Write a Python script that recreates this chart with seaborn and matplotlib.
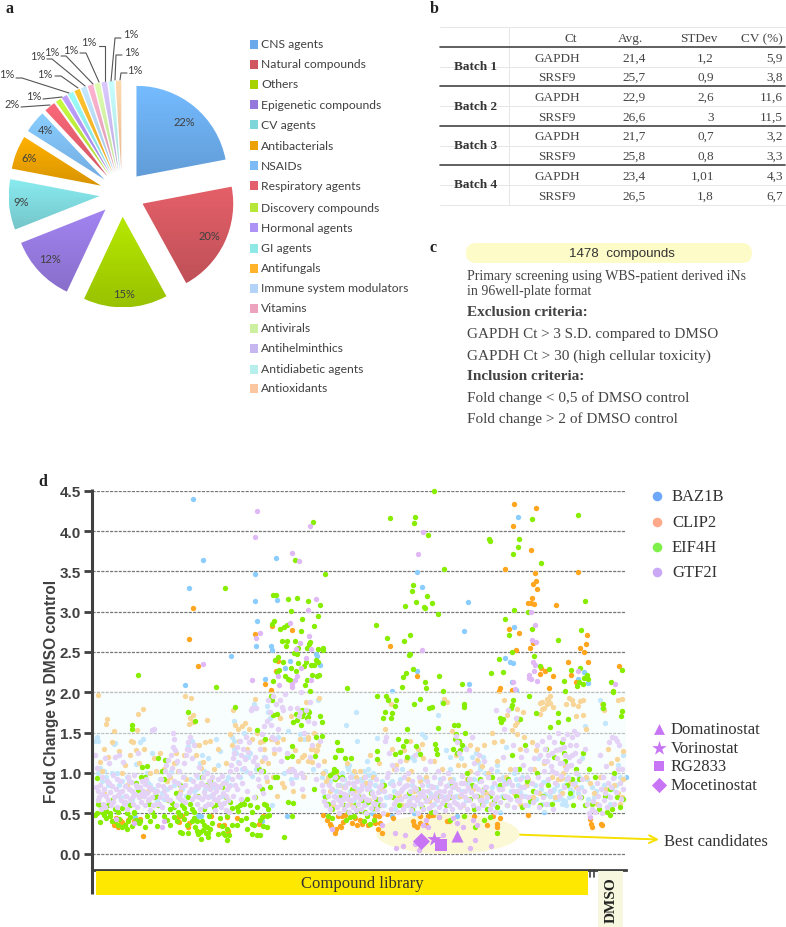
import numpy as np
import pandas as pd
import matplotlib
matplotlib.use("Agg")
import matplotlib.pyplot as plt
from matplotlib.colors import LinearSegmentedColormap, to_rgb
from matplotlib.patches import Ellipse, FancyBboxPatch, Rectangle
import seaborn as sns

# panel a
pie_names = ["CNS agents", "Natural compounds", "Others", "Epigenetic compounds", "CV agents",
             "Antibacterials", "NSAIDs", "Respiratory agents", "Discovery compounds", "Hormonal agents",
             "GI agents", "Antifungals", "Immune system modulators", "Vitamins", "Antivirals",
             "Antihelminthics", "Antidiabetic agents", "Antioxidants"]
pie_values = [22, 20, 15, 12, 9, 6, 4, 2, 1, 1, 1, 1, 1, 1, 1, 1, 1, 1]
pie_colors = ["#6aaaea", "#d0575f", "#a6d300", "#9478dc", "#7dd6da", "#eba100", "#7dbbf5", "#e45f6e",
              "#b6e63a", "#ae92f5", "#8ee8e6", "#ffb32a", "#b3d4f8", "#eca4be", "#ccf0a0", "#c7b7f0",
              "#b6efeb", "#fbc7a0"]

# panel b
batch_names = ["Batch 1", "Batch 2", "Batch 3", "Batch 4"]
table_header = ["Ct", "Avg.", "STDev", "CV (%)"]
table_genes = ["GAPDH", "SRSF9"] * 4
table_avg = ["21,4", "25,7", "22,9", "26,6", "21,7", "25,8", "23,4", "26,5"]
table_std = ["1,2", "0,9", "2,6", "3", "0,7", "0,8", "1,01", "1,8"]
table_cv = ["5,9", "3,8", "11,6", "11,5", "3,2", "3,3", "4,3", "6,7"]

# panel d, position along the plate axis and fold change
baz1b = [(101,4.40),(111,3.64),(97,3.29),(163,3.47),(163,3.13),(184,3.67),(185,3.15),(165,2.89),(164,2.58),(179,2.58),
 (180,2.52),(139,2.45),(198,2.39),(224,2.47),(225,2.45),(228,2.34),(193,2.30),(173,2.17),(93,2.09),
 (426,4.18),(325,3.49),(330,3.31),(376,3.12),(422,2.81),(372,2.76),(413,2.42),(418,2.38),(421,2.36),(325,2.26),
 (492,2.25),(486,2.17),(496,2.11),(377,2.10),(420,2.13),(300,2.02),(424,2.03),
 (43,.45),(106,.47),(109,.47),(170,.41),(195,.47),(322,.50),(365,.47),(280,.50),(300,.46),
 (3,1.40),(5,1.44),(6,1.0),(8,1.06),(10,.90),(12,1.02),(14,.95),(22,1.36),(25,1.0),(27,.85),(30,.90),(33,.72),(37,.62),
 (44,1.11),(48,1.38),(52,.92),(55,1.0),(58,.85),(60,1.25),(65,.65),(70,.75),(75,.90),(79,1.02),(84,1.12),(88,.68),
 (92,.95),(96,1.33),(100,1.40),(104,.80),(108,1.12),(112,1.02),(116,1.18),(120,.88),(124,1.42),(128,1.27),(134,.90),
 (140,1.45),(142,1.30),(146,1.14),(150,1.05),(152,1.50),(156,1.2),(160,.96),(164,1.05),(168,1.38),(172,1.20),(176,1.75),
 (178,1.68),(180,.60),(186,1.45),(192,1.0),(196,1.52),(199,.92),(204,.95),(208,1.48),(212,1.42),(216,1.70),(221,1.05),
 (226,1.90),(230,.95),(233,1.02),(238,.90),(240,.80),(246,.68),(250,1.0),(253,.85),(256,1.05),(260,.95),(264,.72),
 (268,.92),(272,.85),(276,1.05),(278,.90),(282,.98),(288,.78),(292,.60),(296,.70),(300,.90),(303,.55),(306,.68),
 (310,1.05),(312,.82),(316,.60),(319,.70),(322,.52),(326,1.25),(330,1.48),(334,.95),(338,.75),(342,.62),(346,1.72),
 (350,1.88),(354,1.28),(358,1.05),(362,.82),(366,.70),(369,1.18),(372,1.32),(376,.88),(380,1.20),(384,1.25),(388,1.05),
 (391,.75),(394,.65),(398,.95),(402,.62),(405,1.10),(408,.52),(412,.90),(414,1.32),(418,.68),(422,1.0),(426,.85),(430,.95),
 (433,.72),(436,.60),(440,1.05),(443,.85),(446,1.18),(450,.62),(452,.52),(455,.90),(458,.72),(462,.80),(466,.68),(468,.78),
 (470,.75),(472,.85),(474,.92),(477,.70),(480,.78),(483,.88),(486,.75),(490,1.18),(493,1.58),(496,.68),(508,1.90),
 (510,1.80),(513,1.62),(518,.62),(522,.95),(526,1.10),(530,.92),(531,1.22)]
baz1b_more = [(6,1.40),(23,1.37),(51,1.42),(75,.80),(113,.80),(126,1.10),(142,1.40),(142,1.64),(153,1.20),(162,1.85),(163,1.80),
 (175,1.83),(264,1.75),(254,1.59),(265,1.40),(255,1.08),(257,1.10),(275,1.15),(260,1.0),(278,.97),(272,1.02),(276,.97),(281,1.0),
 (285,1.43),(333,1.44),(320,1.20),(322,1.16),(316,1.18),(471,.66),(476,.95),(451,.89),(458,.72),(463,.68),(473,.65),(480,.72),
 (386,1.13),(391,1.20),(388,1.08),(405,1.02),(411,.95),(358,1.20),(468,.70),(470,.62),(474,.60),(478,.80),(465,.85),(461,.78),
 (456,.62),(453,.74),(449,.80),(444,.68),(438,.70),(435,.85),(428,.76),(424,.92),(419,.78),(415,.88),(410,.72),(406,.84),(400,.82),
 (396,.72),(393,1.0),(387,.90),(382,.92),(378,.80),(374,.66),(370,.78),(364,.72),(361,.92),(356,.85),(352,.70),(348,.92),(344,.82),
 (340,.72),(336,.85),(332,.92),(328,.62),(324,.78),(320,.85),(314,.72),(308,.92),(302,.78),(298,.88),(294,.70),(290,.90),(286,.66),
 (283,.85),(279,.78),(274,.62),(270,.90),(266,.80),(262,.66),(258,.78),(252,.92),(248,.85),(244,.78),(242,.95),(236,.88),(232,.72),
 (16,.85),(20,1.0),(28,.70),(35,.95),(40,.68),(46,.82),(50,.75),(56,.88),(62,.80),(68,.92),(72,.68),(82,.85),(90,.80),(94,.72),
 (98,.92),(102,.78),(106,.95),(110,1.22),(118,.72),(122,.82),(130,.72),(136,.95),(138,.85),(144,1.25),(148,.95),(154,1.02),(158,1.25),
 (487,.95),(489,.82),(495,.92),(500,.82),(502,.70),(504,.78),(512,.85),(516,.72),(520,.80),(524,.85),(528,.95),(534,.95)]

clip2 = [(101,3.05),(97,2.66),(106,2.33),(163,2.72),(180,2.82),(200,2.77),(186,2.39),(184,2.26),(173,2.10),(179,2.03),
 (422,4.34),(444,4.29),(421,4.06),(439,3.76),(413,3.53),(486,3.49),(443,3.48),(444,3.38),(441,3.34),(445,3.28),(440,3.17),
 (436,3.11),(439,3.11),(442,3.09),(464,3.08),(417,2.78),(427,2.73),(495,2.71),(494,2.60),(298,2.57),(441,2.61),(438,2.55),
 (488,2.55),(424,2.52),(492,2.50),(476,2.37),(496,2.37),(527,2.32),(449,2.30),(453,2.27),(448,2.23),(479,2.22),(461,2.20),
 (325,2.20),(484,2.13),(408,2.05),(407,2.02),(420,2.03),(457,2.05),
 (22,.36),(26,.33),(20,.40),(30,.39),(33,.35),(28,.42),(36,.42),(42,.40),(51,.22),(48,.43),(24,.44),(87,.39),(90,.46),(97,.38),
 (86,.45),(96,.33),(127,.35),(132,.36),(136,.28),(119,.46),(135,.45),(145,.44),(171,.46),(167,.37),
 (231,.48),(235,.42),(238,.37),(239,.34),(244,.30),(248,.34),(246,.46),(250,.46),(253,.48),(243,.26),(251,.39),(249,.33),
 (260,.38),(263,.44),(265,.35),(268,.42),(270,.37),(276,.35),(283,.46),(283,.38),(288,.38),(287,.46),(286,.30),(290,.25),
 (301,.44),(295,.49),(321,.41),(322,.35),(325,.33),(328,.38),(334,.36),(328,.47),(336,.47),(339,.48),(341,.48),(355,.40),
 (357,.41),(382,.46),(395,.35),(401,.46),(405,.37),(405,.33),(408,.44),(436,.48),(498,.43),(499,.37),(500,.33),(509,.37),(510,.36),
 (6,1.97),(93,1.95),(99,1.93),(46,1.73),(51,1.79),(15,1.67),(14,1.61),(22,1.52),(45,1.53),(101,1.72),(98,1.68),(101,1.63),
 (97,1.61),(115,1.66),(8,1.14),(12,1.30),(16,1.20),(12,.75),(27,1.27),(30,1.0),(35,.85),(39,1.40),(41,1.38),(44,1.29),(47,1.12),
 (56,.78),(58,1.0),(64,1.02),(68,1.25),(75,.90),(78,.95),(84,1.25),(86,1.02),(88,.78),(94,.92),(103,1.35),(107,1.35),
 (104,1.22),(111,1.14),(113,1.38),(118,1.40),(122,1.05),(126,1.30),(130,.85),(141,1.78),(140,1.35),(143,1.60),(147,1.40),
 (150,1.58),(153,1.62),(157,1.55),(163,1.92),(165,1.50),(168,1.38),(172,1.30),(176,1.12),(179,1.42),(182,1.25),(185,1.38),
 (188,1.68),(192,.82),(199,1.70),(203,1.28),(208,1.42),(212,1.22),(214,1.88),(216,1.45),(219,1.30),(222,1.50),(224,1.27),
 (227,1.93),(231,1.0),(234,.90),(238,.78),(241,.60),(244,1.0),(248,.70),(252,.82),(256,.88),(258,.62),(262,.78),(264,.95),
 (268,1.02),(271,.70),(274,.88),(277,.66),(281,.95),(284,.55),(290,.80),(293,1.55),(296,1.92),(299,1.85),(300,1.30),(304,1.10),
 (307,.72),(310,.60),(314,1.16),(316,.92),(319,1.02),(322,.78),(325,.70),(328,.90),(331,1.18),(334,.95),(337,.65),(340,.82),
 (344,.68),(348,.88),(352,1.92),(355,1.88),(360,1.52),(363,.85),(366,1.10),(368,.72),(371,.60),(375,.92),(378,1.35),(381,.80),
 (385,1.30),(389,.70),(392,1.35),(396,.95),(399,.62),(402,1.38),(405,1.15),(408,.85),(412,1.90),(415,1.72),(418,1.05),(422,.75),
 (425,1.48),(428,.62),(432,1.45),(436,.92),(440,1.38),(444,1.28),(447,.75),(450,1.88),(452,1.80),(455,1.92),(458,1.95),(461,1.82),
 (463,.70),(466,.92),(470,.75),(474,1.85),(477,1.93),(480,1.90),(484,.82),(487,.70),(491,1.72),(494,1.55),(498,.88),(502,.75),
 (505,.62),(510,1.85),(512,1.78),(516,1.30),(519,1.12),(522,.85),(526,1.90),(530,1.92),(528,.62),(531,.92)]
clip2_more = [(171,1.40),(181,1.42),(191,1.42),(216,1.42),(221,1.30),(226,1.35),(225,1.28),(210,1.20),(216,1.15),(220,1.13),(232,1.15),
 (185,.72),(211,.72),(190,.87),(201,.77),(181,.95),(236,.95),(448,1.87),(456,1.91),(455,1.85),(450,1.79),(448,1.73),(458,1.87),
 (491,1.91),(488,1.89),(481,1.85),(486,1.83),(484,1.71),(425,1.79),(431,1.75),(425,1.68),(425,1.63),(423,1.59),(420,1.53),(410,1.40),
 (400,1.50),(428,1.30),(428,.70),(441,.70),(390,1.08),(396,1.0),(385,1.16),(468,.93),(471,1.0),(473,1.08),(470,.94),(525,1.17),(531,1.27),
 (526,.75),(530,.70),(10,1.02),(20,1.38),(33,1.10),(38,1.22),(52,1.30),(62,1.18),(72,1.05),(82,1.12),(92,1.22),(109,1.06),(134,1.12),
 (138,1.48),(146,1.55),(155,1.30),(160,1.42),(170,1.15),(175,.90),(198,1.05),(206,1.15),(212,.95),(243,.92),(255,1.12),(262,1.02),
 (272,.95),(278,1.22),(287,1.12),(302,1.05),(312,1.28),(318,1.40),(326,1.30),(330,1.36),(342,1.15),(350,1.05),(358,.92),(364,1.22),
 (372,1.10),(378,1.02),(394,.75),(414,.95),(434,.85),(442,1.05),(452,1.12),(460,.95),(478,.88),(494,.95),(508,.95),(514,.80)]

eif4h = [(221,4.11),(203,3.64),(233,3.47),(133,3.29),(181,3.21),(184,3.21),(196,3.16),(205,3.17),(216,3.13),(228,3.08),
 (199,3.01),(210,2.91),(226,2.94),(182,2.88),(180,2.85),(195,2.84),(192,2.81),(188,2.78),(209,2.76),(222,2.82),(190,2.64),
 (195,2.64),(203,2.64),(218,2.62),(217,2.60),(194,2.58),(206,2.55),(215,2.55),(226,2.54),(231,2.55),(231,2.53),(202,2.49),
 (205,2.47),(186,2.44),(183,2.40),(191,2.38),(224,2.40),(226,2.37),(206,2.36),(214,2.38),(219,2.34),(222,2.34),(212,2.32),
 (199,2.30),(187,2.28),(204,2.26),(185,2.25),(193,2.20),(196,2.16),(198,2.15),(220,2.21),(227,2.21),(225,2.20),(215,2.15),
 (181,2.14),(213,2.09),(46,2.22),(124,2.07),(218,2.01),
 (342,4.5),(298,4.16),(323,4.17),(322,4.10),(440,4.15),(486,4.20),(336,3.95),(397,3.90),(398,3.88),(427,3.90),(426,3.80),
 (421,3.71),(449,3.60),(352,3.53),(321,3.33),(320,3.26),(335,3.20),(324,3.12),(340,3.11),(313,3.07),(332,3.06),(333,3.04),
 (346,2.97),(493,3.13),(422,3.02),(436,3.00),(413,2.91),(284,2.84),(440,2.79),(489,2.77),(417,2.71),(318,2.71),(295,2.67),
 (312,2.64),(466,2.65),(318,2.48),(317,2.46),(420,2.50),(442,2.45),(407,2.41),(321,2.29),(448,2.33),(457,2.29),(488,2.30),
 (479,2.28),(399,2.24),(411,2.25),(530,2.28),(314,2.24),(311,2.19),(347,2.20),(495,2.22),(492,2.18),(496,2.17),(333,2.13),
 (370,2.10),(472,2.14),(487,2.13),(491,2.10),(485,2.08),(519,2.13),(310,2.07),(334,2.05),(255,2.05),(351,2.01),(473,2.02),(521,2.01),
 # under the 0.5 line
 (8,.39),(12,.48),(14,.44),(18,.47),(20,.40),(23,.41),(26,.36),(27,.43),(30,.33),(33,.36),(35,.31),(36,.40),(38,.45),(42,.50),
 (47,.38),(48,.41),(53,.33),(55,.47),(62,.46),(65,.34),(72,.47),(75,.42),(78,.36),(82,.45),(85,.40),(88,.48),(92,.43),(95,.36),
 (96,.25),(100,.40),(102,.44),(105,.28),(109,.18),(111,.29),(106,.24),(115,.33),(116,.20),(118,.30),(120,.38),(110,.41),(117,.47),
 (112,.36),(108,.27),(116,.25),(114,.26),(105,.41),(103,.33),(126,.24),(131,.25),(135,.31),(135,.17),(137,.23),(130,.34),(133,.23),
 (135,.46),(128,.44),(140,.36),(145,.36),(149,.42),(154,.44),(155,.31),(160,.37),(160,.24),(165,.23),(168,.23),(162,.35),(168,.42),
 (171,.34),(175,.46),(170,.45),(192,.21),(236,.46),(240,.44),(254,.42),(258,.45),(262,.47),(272,.40),(275,.46),(278,.37),(282,.42),
 (200,.47),(175,.33),(177,.48),(3,.48),(5,.50),(40,.34),(44,.42),(58,.40),(88,.27),(90,.25),
 (347,.45),(358,.42),(372,.46),(383,.33),(392,.42),(398,.45),(405,.26),(518,.48),
 # band
 (5,.94),(6,.62),(8,.60),(10,.52),(12,.56),(14,.53),(16,.60),(18,.50),(20,.67),(23,.55),(26,.52),(30,.56),(35,.50),(38,.60),
 (42,.52),(44,.88),(46,.79),(48,.72),(49,.95),(50,1.07),(53,.95),(55,1.08),(57,.62),(60,.52),(62,.70),(64,.72),(66,.60),(66,1.18),
 (70,1.03),(72,.92),(73,1.16),(76,.67),(78,.55),(80,.63),(82,.58),(84,.75),(86,.52),(88,.85),(90,.60),(92,.56),(94,.50),(96,.70),
 (98,.62),(100,.55),(102,.52),(96,1.75),(103,1.65),(40,1.60),(40,1.54),(106,.72),(110,.95),(112,.55),(115,.85),(118,.90),(122,.58),
 (125,.62),(130,.82),(134,.70),(138,.64),(140,.57),(143,1.82),(146,.53),(145,.58),(148,.60),(150,.65),(152,.62),(155,.68),(158,.60),
 (160,.52),(163,.70),(165,.58),(167,1.05),(170,.80),(172,.62),(174,.60),(176,.55),(165,1.53),(173,1.42),(171,1.03),(178,.82),
 (179,1.96),(180,1.90),(181,1.72),(183,.95),(185,.95),(185,1.73),(195,1.20),(196,.64),(200,1.21),(200,1.34),(201,.63),(201,1.63),
 (204,1.73),(205,1.66),(209,1.59),(210,1.78),(210,1.70),(211,1.74),(215,1.68),(216,1.77),(216,1.69),(217,1.76),(222,.80),(223,1.21),
 (224,1.44),(228,1.71),(230,1.46),(230,1.63),(233,.70),(236,.62),(238,.98),(240,.55),(241,1.0),(242,1.05),(243,.92),(244,1.02),
 (245,.95),(245,1.38),(246,.85),(246,1.28),(248,.70),(249,1.28),(243,1.2),(250,.95),(252,.60),(253,1.18),(255,.72),(256,.52),
 (259,1.18),(260,.80),(263,.60),(266,.72),(268,.54),(270,.66),(273,.52),(276,.64),(279,.75),(281,.56),(284,.68),(285,1.17),(285,1.27),
 (285,1.95),(288,.60),(291,1.68),(292,.85),(293,1.75),(294,1.96),(296,1.90),(299,1.68),(300,1.74),(301,.70),(303,1.24),(303,1.83),
 (304,1.90),(306,1.42),(307,.60),(308,1.26),(311,1.33),(314,1.40),(315,1.55),(315,1.20),(317,.75),(320,.55),(322,1.85),(324,1.34),
 (326,.80),(328,1.24),(328,1.92),(330,.58),(333,.70),(337,1.8),(340,1.82),(339,.52),(343,1.36),(344,1.3),(345,1.24),(346,1.56),(347,.72),
 (351,1.87),(354,.60),(358,.70),(360,.85),(361,1.30),(362,1.60),(363,1.42),(364,1.48),(365,1.25),(366,1.60),(367,1.40),(368,1.28),
 (370,1.35),(372,1.86),(372,1.82),(373,1.50),(375,1.0),(376,.92),(378,.68),(380,.85),(382,.55),(385,.72),(388,.92),(390,.62),
 (392,.80),(395,.55),(398,.72),(400,.95),(402,.65),(405,.58),(408,.85),(409,1.63),(408,1.68),(411,1.67),(412,.70),(415,.60),(416,.92),
 (420,1.22),(421,1.90),(420,1.84),(419,1.80),(424,.72),(427,1.05),(428,1.67),(430,.58),(433,1.35),(435,.90),(437,1.95),(438,.65),
 (441,.78),(444,1.74),(445,1.0),(448,.60),(451,.72),(454,1.30),(456,.85),(458,1.57),(460,.62),(462,1.2),(466,1.63),(466,1.74),
 (468,1.30),(470,1.38),(472,1.25),(473,1.15),(475,.85),(476,1.67),(478,.75),(480,.92),(481,.60),(484,1.05),(487,.92),(489,.70),
 (491,1.25),(493,.60),(497,1.05),(500,.62),(503,.95),(507,.55),(511,1.8),(511,1.86),(513,.72),(515,.52),(518,.80),(520,.55),
 (522,1.0),(525,.70),(528,.58),(529,1.71),(530,1.77),(531,.68),(521,2.0)]

gtf2i = [(165,4.25),(218,4.06),(163,3.92),(200,3.73),(207,3.63),(224,3.16),(216,3.02),(198,2.86),(168,2.74),(164,2.67),
 (217,2.70),(208,2.61),(204,2.54),(219,2.54),(214,2.43),(111,2.35),(209,2.30),(186,2.20),(205,2.20),(203,2.15),(219,2.15),
 (160,2.15),(200,2.10),(200,2.07),(187,2.09),(209,2.00),
 (331,3.99),(326,3.72),(439,2.99),(443,2.84),(440,2.65),(444,2.62),(330,2.52),(441,2.37),(443,2.34),(442,2.27),(486,2.27),
 (437,2.22),(437,2.18),(439,2.17),(445,2.14),(421,2.13),(523,2.10),(377,2.03),(423,2.04),
 (303,.25),(313,.23),(304,.07),(311,.10),(323,.12),(327,.04),(331,.35),(336,.33),(351,.23),(365,.38),(371,.33),(378,.07),
 (383,.17),(399,.10),(385,.35),(381,.42),(334,.42),(347,.45),(361,.44),(42,.38),(24,.43),(70,.33),(72,.40),(240,.30),(290,.35),
 # band
 (3,1.22),(5,1.06),(4,.82),(6,.78),(7,.70),(8,.85),(10,.95),(11,.62),(12,.80),(9,.55),(14,.72),(15,.90),(16,.66),(13,1.18),
 (17,1.12),(18,.76),(19,.60),(20,.84),(21,.97),(22,.70),(23,1.20),(24,.80),(25,.58),(26,.73),(27,1.22),(28,.90),(29,.66),(30,.78),
 (31,1.13),(32,.61),(33,.84),(34,.72),(35,.55),(36,.95),(37,.80),(38,.68),(39,.89),(40,.77),(41,.62),(42,.98),(43,.74),(44,.85),
 (45,.58),(46,1.25),(47,.70),(48,.83),(49,.64),(50,.90),(51,.78),(52,.72),(53,.60),(54,.93),(55,.75),(56,.67),(57,.82),(58,.54),
 (59,.80),(60,.70),(60,1.53),(62,1.55),(63,.76),(64,.62),(66,.85),(68,.70),(69,.92),(70,.58),(72,.78),(73,1.03),(74,1.10),(75,.68),
 (76,1.16),(77,.98),(78,.83),(79,1.22),(80,1.06),(81,1.49),(81,1.32),(82,1.42),(83,1.28),(84,.60),(85,1.15),(86,.88),(87,1.03),
 (88,.74),(90,.67),(91,.95),(92,1.12),(93,.85),(94,1.22),(95,1.30),(96,1.38),(97,1.28),(98,1.44),(99,.80),(100,1.18),(101,.90),
 (102,1.35),(103,.72),(104,.98),(105,.62),(106,.82),(107,1.07),(108,.55),(109,.88),(110,.68),(111,.95),(112,.76),(113,.59),
 (114,.84),(115,1.00),(116,.70),(117,.90),(118,.80),(119,.62),(120,.95),(121,.74),(122,.86),(123,.54),(124,.78),(125,.66),(126,.92),
 (127,.70),(128,.82),(129,.58),(130,.96),(131,.75),(132,.63),(133,.88),(134,.54),(135,.80),(136,.66),(137,.52),
 (138,1.02),(139,1.10),(140,.92),(141,1.18),(142,1.25),(143,.85),(144,1.05),(145,1.32),(146,.96),(147,1.12),(148,1.40),(149,1.22),
 (150,.88),(151,1.30),(152,1.06),(153,1.17),(154,1.45),(155,.78),(156,1.26),(157,1.38),(158,1.00),(159,1.78),(160,1.80),(161,1.15),
 (162,.70),(163,1.20),(164,1.80),(165,1.10),(166,.92),(167,.84),(168,1.30),(169,1.02),(170,1.48),(171,.75),(172,1.58),(173,1.18),
 (174,.95),(175,1.65),(176,1.90),(178,1.75),(179,1.60),(180,1.45),(181,1.95),(182,1.30),(183,1.42),(184,1.85),(186,1.55),(187,1.30),
 (188,1.90),(189,1.15),(190,1.82),(191,1.78),(193,1.98),(195,1.25),(196,1.02),(198,1.80),(200,.88),(200,1.05),(202,1.02),(204,.98),
 (205,1.80),(207,1.70),(208,1.75),(209,1.00),(210,.80),(211,.95),(212,1.50),(214,1.78),(216,1.65),(218,1.88),(218,1.20),(220,1.35),
 (222,1.62),(224,.92),(226,1.10),(228,1.40),(230,.85),(231,.78),(232,.65),(234,.60),(236,.72),(238,.55),(240,.80),(241,.64),(243,.95),
 (244,.70),(245,.58),(246,.85),(247,.50),(248,.76),(249,.62),(250,.92),(251,.68),(252,.55),(253,.82),(254,.73),(255,.60),(256,.88),
 (257,.52),(258,.95),(259,.66),(260,.75),(261,.58),(262,.84),(263,.70),(264,.54),(265,.90),(266,.62),(267,.78),(268,.68),(269,.55),
 (270,.85),(271,.72),(272,.60),(273,.95),(274,.50),(275,.80),(276,.66),(278,.88),(279,.57),(280,.75),(281,.63),(282,.70),(284,.92),
 (285,.55),(287,.82),(288,.68),(290,.60),(291,.50),(292,.78),(293,1.40),(294,1.45),(295,.95),(296,1.0),(297,1.25),(298,.72),(299,.55),
 (300,1.10),(301,.85),(302,.62),(304,1.05),(305,.75),(306,.52),(307,.88),(308,1.15),(309,.68),(310,.80),(311,.55),(312,.95),(313,.72),
 (314,.60),(315,.85),(316,1.00),(317,.65),(318,.78),(319,.54),(320,.90),(321,.70),(322,.60),(323,1.22),(324,.80),(325,.67),(326,.50),
 (327,.95),(328,.75),(329,.62),(330,.85),(331,.55),(332,.72),(333,1.05),(334,.65),(335,.90),(336,.78),(337,.56),(338,1.15),(339,.70),
 (340,.60),(341,.82),(342,.95),(343,.52),(344,.75),(345,.66),(346,1.02),(347,.58),(348,.88),(349,.72),(350,.63),(351,.94),(352,.78),
 (353,.54),(354,.84),(355,.68),(356,1.0),(357,.60),(358,.76),(359,.90),(360,.55),(361,.70),(362,.64),(363,.86),(364,1.46),(365,1.38),
 (366,.80),(367,1.25),(368,.58),(369,.74),(370,.96),(371,.62),(372,.88),(373,.70),(374,1.30),(375,.55),(376,.82),(377,.66),(378,.92),
 (379,.76),(380,1.45),(381,.60),(382,1.12),(383,.84),(384,.72),(385,1.00),(386,.56),(387,1.22),(388,.66),(389,.90),(390,.78),(391,.60),
 (392,1.15),(393,.82),(395,.70),(396,.95),(398,.55),(399,1.05),(400,.75),(401,.62),(402,.88),(403,.52),(404,1.78),(405,.70),(407,.92),
 (408,.64),(410,.80),(411,1.2),(412,1.55),(413,.72),(415,.60),(416,1.78),(417,.90),(418,.68),(420,.85),(421,1.35),(422,.58),(423,1.05),
 (424,1.68),(425,.78),(427,.65),(428,.92),(429,1.2),(430,.72),(431,1.1),(432,.82),(433,.60),(434,1.28),(435,.95),(436,.70),
 (438,1.05),(440,.88),(441,.64),(442,1.18),(444,.76),(445,1.35),(446,.95),(447,.58),(448,1.22),(449,.85),(450,1.40),(451,.70),(452,1.02),
 (453,1.30),(454,.62),(455,1.15),(456,.92),(457,1.45),(458,.78),(459,1.08),(460,1.25),(461,.55),(462,1.38),(463,.88),(464,1.0),(465,1.18),
 (466,1.5),(467,.72),(468,1.30),(469,.96),(470,1.12),(471,1.42),(472,.82),(473,1.22),(474,1.05),(475,1.48),(476,.94),(477,1.2),(478,1.35),
 (479,1.10),(480,1.45),(481,.86),(482,1.52),(483,1.25),(484,1.0),(485,1.48),(486,.80),(487,1.15),(488,.70),(490,.92),(492,.78),(493,1.30),
 (495,.62),(497,.50),(498,.45),(500,.55),(501,.65),(503,.52),(505,.88),(506,.72),(507,.60),(508,1.22),(509,.80),(510,.50),(511,.95),
 (512,.66),(513,.75),(514,1.08),(515,.58),(516,.88),(517,1.38),(518,.70),(519,.82),(520,1.45),(521,.94),(522,.62),(523,1.43),(524,.76),
 (525,1.40),(526,1.05),(527,1.35),(528,.88),(529,.68),(530,1.05),(531,.80),
 # second pass over the densest stretches
 (6,.66),(10,.74),(13,.58),(17,.88),(21,.64),(25,.92),(28,.76),(33,.64),(37,.90),(41,.72),(45,.82),(49,.74),(53,.86),(57,.68),(61,.60),
 (65,.78),(67,.62),(71,.84),(74,.72),(78,.66),(82,.90),(86,.70),(89,.82),(93,.64),(97,.76),(100,.68),(104,.84),(107,.70),(110,.86),
 (113,.72),(116,.62),(119,.86),(122,.68),(125,.84),(128,.62),(131,.88),(134,.72),(137,.84),(141,.72),(145,.80),(149,.68),
 (237,.85),(242,.72),(247,.66),(252,.74),(256,.68),(261,.88),(265,.72),(269,.80),(274,.68),(277,.84),(283,.62),(286,.76),(289,.85),
 (304,.66),(309,.78),(313,.84),(318,.62),(322,.82),(327,.70),(331,.78),(335,.66),(339,.84),(343,.72),(347,.78),(352,.66),(356,.72),
 (360,.82),(365,.62),(369,.88),(373,.78),(377,.92),(382,.72),(386,.80),(390,.66),(394,.82),(399,.76),(403,.68),(407,.80),(412,.86),
 (416,.70),(421,.78),(425,.66),(429,.82),(452,1.15),(456,1.22),(460,1.02),(464,1.28),(468,1.12),(472,1.32),(476,1.08),(480,1.22),(484,1.35)]

# the four hits called out in the plot
drug_names = ["Domatinostat", "Vorinostat", "RG2833", "Mocetinostat"]
drug_pos = [365, 342, 349, 329]
drug_fc = [.22, .18, .11, .16]
drug_markers = ["^", "*", "s", "D"]

gene_names = ["BAZ1B", "CLIP2", "EIF4H", "GTF2I"]
gene_series = [baz1b + baz1b_more, clip2 + clip2_more, eif4h, gtf2i]
gene_colors = ["#8ccdff", "#ffa51e", "#88ee00", "#dfb8f5"]
gene_key_colors = ["#6ea8fb", "#ffa98a", "#7ff04a", "#caa8f5"]

yticks = [0, .5, 1, 1.5, 2, 2.5, 3, 3.5, 4, 4.5]

sns.set_theme(style="white")
W, H = 786, 928
fig = plt.figure(figsize=(W / 100, H / 100), dpi=100)
SERIF = "Liberation Serif"
SANS = "Liberation Sans"
INK = "#404040"


def axes_px(left, top, right, bottom):
    return fig.add_axes([left / W, 1 - bottom / H, (right - left) / W, (bottom - top) / H])


# ---- pie, a
R = 90.7
half = 122
ax_pie = axes_px(122 - half, 195 - half, 122 + half, 195 + half)
wedges, _ = ax_pie.pie(pie_values, colors=pie_colors, startangle=90, counterclock=False,
                       explode=[.25] * len(pie_values), radius=1)
for w, c in zip(wedges, pie_colors):
    rgb = np.array(to_rgb(c))
    cm = LinearSegmentedColormap.from_list("g", [np.minimum(rgb * 1.1, 1), rgb * .92])
    box = w.get_path().get_extents()
    im = ax_pie.imshow(np.linspace(0, 1, 64)[:, None], cmap=cm, aspect="auto",
                       extent=[box.x0, box.x1, box.y0, box.y1], origin="upper", zorder=2)
    im.set_clip_path(w)
ax_pie.set_xlim(-half / R, half / R)
ax_pie.set_ylim(-half / R, half / R)
ax_pie.axis("off")

# ---- scatter, d
ax = axes_px(92, 491.7, 626, 870.7)
ax.set_xlim(0, 534)
ax.set_ylim(-.2, 4.5)
ax.add_patch(Rectangle((0, .5), 534, 1.5, fc="#f4fefd", ec="none", alpha=.55, zorder=3))
ax.add_patch(Ellipse((356, .244), 143, .5, fc="#fbf8d5", ec="none", zorder=1))
for name, series, color in zip(gene_names, gene_series, gene_colors):
    df = pd.DataFrame(series, columns=["pos", "fc"])
    # blue and orange sit under the pale band, green stays vivid on top
    z = 2 if name in ("BAZ1B", "CLIP2") else 4
    if name == "GTF2I":
        # purple goes over the green but still looks washed out inside the band
        in_band = df["fc"].between(.5, 2)
        sns.scatterplot(data=df[~in_band], x="pos", y="fc", color=color, s=15, linewidth=0, ax=ax,
                        zorder=z, legend=False, clip_on=False)
        sns.scatterplot(data=df[in_band], x="pos", y="fc", color="#e5d3f7", s=16, linewidth=0, ax=ax,
                        zorder=z, legend=False)
    else:
        sns.scatterplot(data=df, x="pos", y="fc", color=color, s=15, linewidth=0, ax=ax,
                        zorder=z, legend=False, clip_on=False)
for p, f, m in zip(drug_pos, drug_fc, drug_markers):
    sns.scatterplot(x=[p], y=[f], marker=m, color="#c774f5", s=120 if m == "*" else 75, linewidth=0,
                    ax=ax, zorder=6, legend=False)
ax.set_yticks(yticks, [f"{t:.1f}" for t in yticks], fontfamily=SANS, fontweight="bold", fontsize=11, color=INK)
ax.set_xticks([])
ax.set_xlabel("")
ax.set_ylabel("")
ax.tick_params(axis="y", left=True, length=6, width=2, color=INK, pad=2)
ax.grid(axis="y", ls=(0, (2.5, 1)), lw=.9, color="#777777")
ax.set_axisbelow(True)
for s in ["top", "right", "left"]:
    ax.spines[s].set_visible(False)
ax.spines["bottom"].set_linewidth(2)
ax.spines["bottom"].set_color(INK)

# ---- everything laid out in pixels
ov = fig.add_axes([0, 0, 1, 1], facecolor="none")
ov.set_xlim(0, W)
ov.set_ylim(H, 0)
ov.axis("off")

ov.text(52, 691, "Fold Change vs DMSO control", family=SANS, fontweight="bold", fontsize=11.2, color=INK,
        rotation=90, ha="center", va="center")
ov.plot([91.5, 91.5], [490, 895], color=INK, lw=2.2, solid_capstyle="butt")
ov.add_patch(Rectangle((96, 872), 492, 24, fc="#ffe800", ec="none"))
ov.text(362, 884, "Compound library", family=SERIF, fontsize=12, color="#333333", ha="center", va="center")
for tx in (590, 594):
    ov.plot([tx, tx], [871, 878], color=INK, lw=1.2)
ov.add_patch(Rectangle((598, 872), 25, 56, fc="#f7f7df", ec="none"))
ov.text(611, 900, "DMSO", family=SERIF, fontsize=11, fontweight="bold", color="#222222",
        rotation=90, ha="center", va="center")

for name, color, y in zip(gene_names, gene_key_colors, [497, 523, 548, 573]):
    ov.scatter([657], [y], s=48, color=color, linewidth=0)
    ov.text(672, y, name, family=SERIF, fontsize=12, color="#333333", va="center")
for name, m, y in zip(drug_names, drug_markers, [730, 748.7, 766.7, 785.7]):
    ov.scatter([659], [y], marker=m, s=120 if m == "*" else 60, color="#c774f5", linewidth=0)
    ov.text(671, y, name, family=SERIF, fontsize=12, color="#333333", va="center")
ov.annotate("", xy=(659, 840.5), xytext=(520, 835.7),
            arrowprops=dict(arrowstyle="->", color="#f5e000", lw=1.4, shrinkA=0, shrinkB=0, mutation_scale=14))
ov.text(664, 842, "Best candidates", family=SERIF, fontsize=12, color="#333333", va="center")

# pie labels and their leader lines
big_labels = [("22%", 184, 122), ("20%", 209, 236), ("15%", 124, 295), ("12%", 50, 260),
              ("9%", 21, 203), ("6%", 29, 158), ("4%", 46, 131)]
for t, x, y in big_labels:
    ov.text(x, y, t, family="Lato", fontsize=8, color=INK, ha="center", va="center")
small_labels = [("2%", 12, 104, [(21, 108), (50, 106)]),
                ("1%", 34, 97, [(43, 100), (53, 99), (62, 98)]),
                ("1%", 7, 75, [(16, 79), (22, 79), (69, 94)]),
                ("1%", 45, 74, [(55, 77), (61, 77), (78, 89)]),
                ("1%", 38, 56, [(47, 60), (52, 60), (85, 87)]),
                ("1%", 52, 53, [(61, 57), (66, 57), (93, 85)]),
                ("1%", 71, 50, [(80, 54), (86, 54), (99, 83)]),
                ("1%", 89, 43, [(99, 47), (105, 47), (105, 82)]),
                ("1%", 131, 35, [(121, 39), (115, 39), (111, 82)]),
                ("1%", 132, 52, [(122, 56), (116, 56), (115, 81)]),
                ("1%", 135, 70, [(127, 74), (121, 74), (120, 81)])]
for t, x, y, pts in small_labels:
    ov.text(x, y, t, family="Lato", fontsize=8, color=INK, ha="center", va="center")
    ov.plot(*zip(*pts), color="#555555", lw=.8)

pie_key_y = [45, 65, 85, 105.7, 125.7, 146, 166, 186, 208, 228.7, 249, 269, 289, 309, 329, 349, 370, 389]
for name, color, y in zip(pie_names, pie_colors, pie_key_y):
    ov.add_patch(Rectangle((250, y - 4.5), 8, 9, fc=color, ec="none"))
    ov.text(261, y, name, family="Lato", fontsize=8.7, color=INK, va="center")

# table, b
for y in (28, 67.7, 107, 146.7, 186, 206):
    ov.plot([440, 785], [y, y], color="#e6e6e6", lw=.7)
ov.plot([509, 509], [28, 206], color="#e6e6e6", lw=.7)
for y in (47.7, 87.3, 126.7, 165.7):
    ov.plot([440, 785], [y, y], color="#444444", lw=1.2)
tbl = dict(family=SERIF, fontsize=9.5, color="#444444", va="center")
for t, x, ha in zip(table_header, [571, 630, 699, 783], ["center", "center", "center", "right"]):
    ov.text(x, 39, t, ha=ha, **tbl)
row_y = [59, 78, 98, 118, 137, 157, 177, 197]
for i, y in enumerate(row_y):
    ov.text(557, y, table_genes[i], ha="center", **tbl)
    ov.text(634, y, table_avg[i], ha="center", **tbl)
    ov.text(714, y, table_std[i], ha="right", **tbl)
    ov.text(783, y, table_cv[i], ha="right", **tbl)
for name, y in zip(batch_names, [67, 107, 146, 185]):
    ov.text(476, y, name, family=SERIF, fontsize=9.5, fontweight="bold", color="#333333", ha="center", va="center")

# box, c
ov.add_patch(FancyBboxPatch((466, 244), 286, 20, boxstyle="round,pad=0,rounding_size=10",
                            fc="#fdfbc8", ec="none", mutation_aspect=1))
ov.text(622, 254, "1478  compounds", family=SANS, fontsize=9.6, color="#333333", ha="center", va="center")
c_lines = [("Primary screening using WBS-patient derived iNs", 277, False, 10),
           ("in 96well-plate format", 291, False, 10),
           ("Exclusion criteria:", 313, True, 11),
           ("GAPDH Ct > 3 S.D. compared to DMSO", 335, False, 10.9),
           ("GAPDH Ct > 30 (high cellular toxicity)", 356, False, 11),
           ("Inclusion criteria:", 377, True, 11),
           ("Fold change < 0,5 of DMSO control", 398, False, 11),
           ("Fold change > 2 of DMSO control", 419, False, 11)]
for t, y, bold, size in c_lines:
    ov.text(467, y, t, family=SERIF, fontsize=size, fontweight="bold" if bold else "normal",
            color="#444444", va="center")

for t, x, y in [("a", 5, 9), ("b", 430, 9), ("c", 430, 248), ("d", 38, 482)]:
    ov.text(x, y, t, family=SERIF, fontsize=11.5, fontweight="bold", color="#222222", ha="left", va="center")

fig.savefig("out.png", dpi=100)
